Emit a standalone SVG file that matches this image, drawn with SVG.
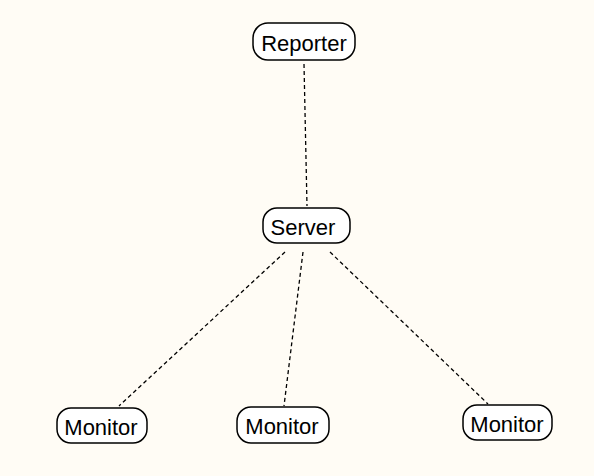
<svg xmlns="http://www.w3.org/2000/svg" width="594" height="476" viewBox="0 0 594 476">
<style>
.node rect{fill:#ffffff;stroke:#000;stroke-width:1.5}
.node text{font-family:"Liberation Sans",Arial,sans-serif;font-size:22px;fill:#000;text-anchor:middle;dominant-baseline:central}
.edge{stroke:#000;stroke-width:1.3;stroke-dasharray:4,3;fill:none}
</style>
<rect width="594" height="476" fill="#fffcf5"/>
<g id="connectors">
<line class="edge" x1="304" y1="64" x2="307" y2="206"/>
<line class="edge" x1="285" y1="252" x2="119" y2="406"/>
<line class="edge" x1="303" y1="252" x2="284" y2="406"/>
<line class="edge" x1="330" y1="252" x2="488" y2="404"/>
</g>
<g id="reporter" class="node"><rect x="253" y="23" width="102" height="37" rx="15"/><text x="304" y="43">Reporter</text></g>
<g id="server" class="node"><rect x="263" y="208" width="87" height="35" rx="14"/><text x="303" y="227">Server</text></g>
<g id="monitor1" class="node"><rect x="57" y="408" width="90" height="35" rx="14"/><text x="101" y="427">Monitor</text></g>
<g id="monitor2" class="node"><rect x="237" y="407" width="92" height="36" rx="14"/><text x="282" y="426">Monitor</text></g>
<g id="monitor3" class="node"><rect x="463" y="405" width="89" height="35" rx="14"/><text x="507" y="424">Monitor</text></g>
</svg>
